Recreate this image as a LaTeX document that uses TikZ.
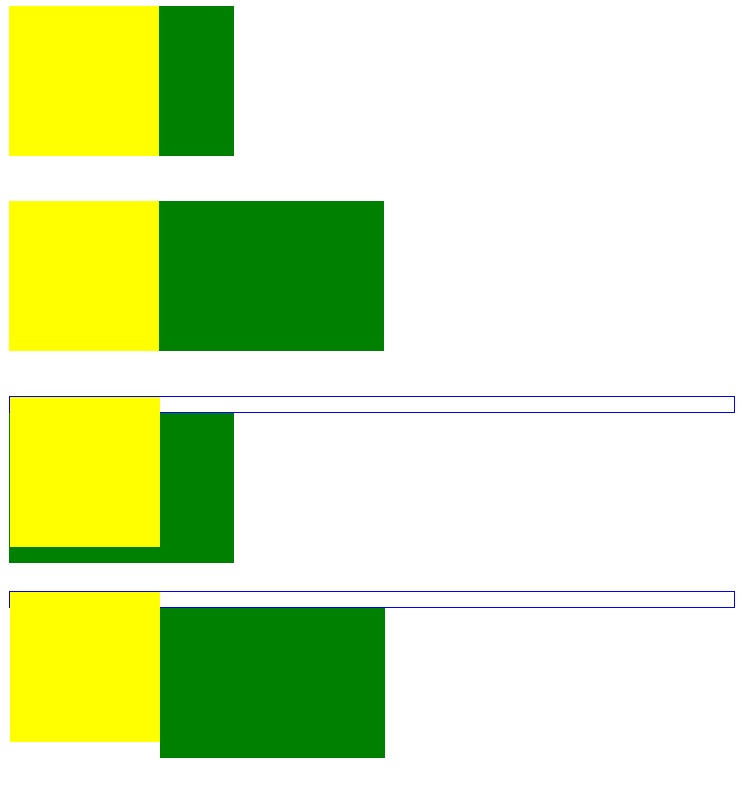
\documentclass[tikz,border=0pt]{standalone}
\definecolor{webgreen}{RGB}{0,128,0}
\definecolor{webyellow}{RGB}{255,255,0}
\definecolor{webblue}{RGB}{0,0,255}
\begin{document}
\begin{tikzpicture}[
  x=1pt, y=-1pt,
  yellowbox/.style={fill=webyellow},
  greenbox/.style={fill=webgreen},
  bluebar/.style={draw=webblue, line width=1pt}
]
\useasboundingbox (0,0) rectangle (742,793);
% row 1
\fill[greenbox] (159,6) rectangle (234,156);
\fill[yellowbox] (9,6) rectangle (159,156);
% row 2
\fill[greenbox] (159,201) rectangle (384,351);
\fill[yellowbox] (9,201) rectangle (159,351);
% row 3
\draw[bluebar] (9.5,396.5) rectangle (734.5,412.5);
\fill[greenbox] (9,413) rectangle (234,563);
\fill[yellowbox] (10,397) rectangle (160,547);
% row 4
\draw[bluebar] (9.5,591.5) rectangle (734.5,607.5);
\fill[greenbox] (160,608) rectangle (385,758);
\fill[yellowbox] (10,592) rectangle (160,742);
\end{tikzpicture}
\end{document}
